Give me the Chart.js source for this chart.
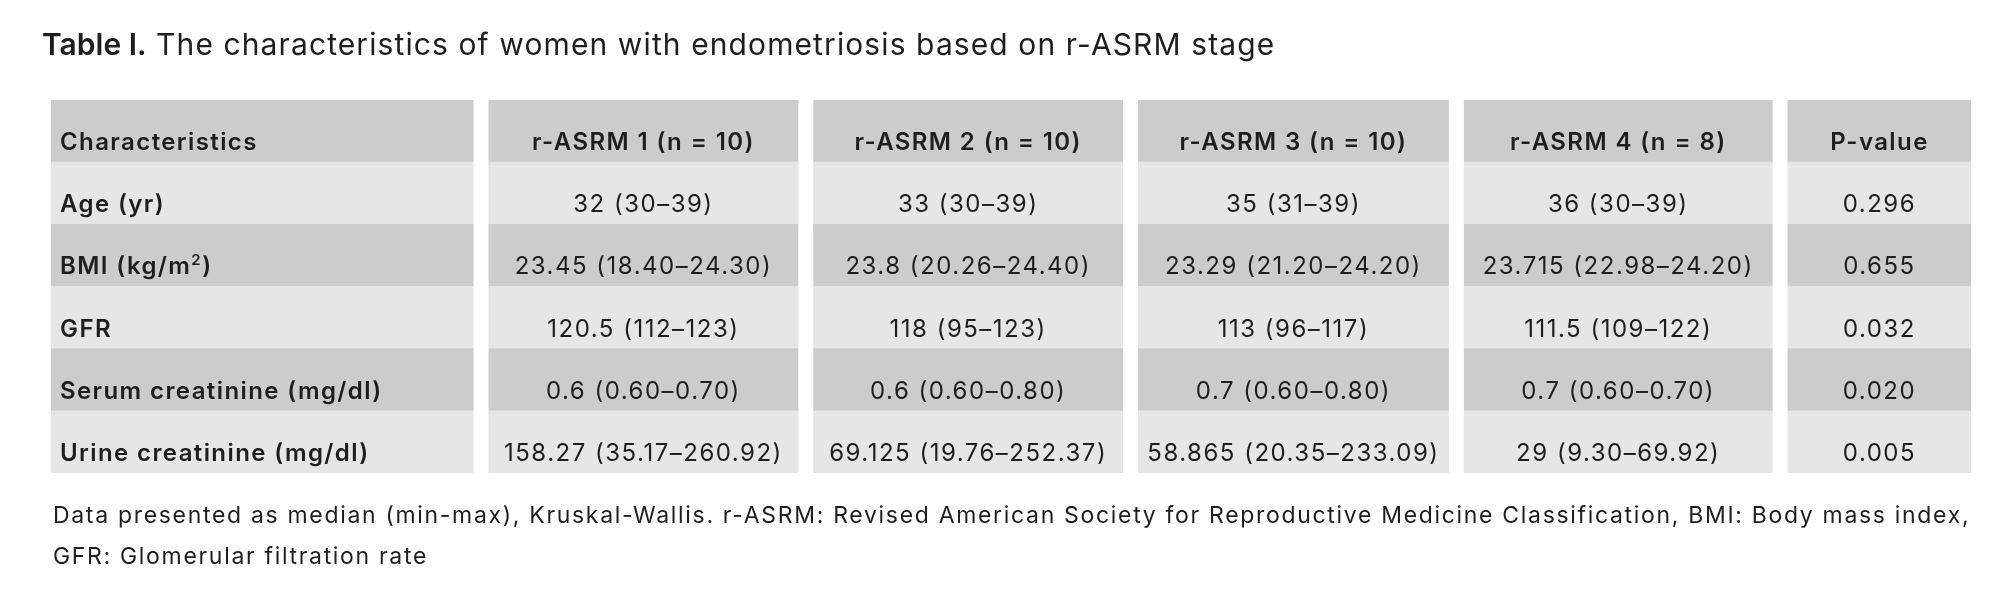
<!DOCTYPE html>
<html>
<head>
<meta charset="utf-8">
<script src="https://cdn.jsdelivr.net/npm/chart.js@4.4.1/dist/chart.umd.min.js"></script>
<style>
  html, body { margin: 0; padding: 0; background: #ffffff; }
  canvas { display: block; }
</style>
</head>
<body>
<canvas id="table-chart" width="2000" height="611"></canvas>
<script>
// --- DATA ---
const headerLabel = 'Characteristics';
const groups = ['r-ASRM 1 (n = 10)', 'r-ASRM 2 (n = 10)', 'r-ASRM 3 (n = 10)', 'r-ASRM 4 (n = 8)'];
const pHeader = 'P-value';
const characteristics = ['Age (yr)', 'BMI (kg/m²)', 'GFR', 'Serum creatinine (mg/dl)', 'Urine creatinine (mg/dl)'];
const asrm1 = ['32 (30–39)', '23.45 (18.40–24.30)', '120.5 (112–123)', '0.6 (0.60–0.70)', '158.27 (35.17–260.92)'];
const asrm2 = ['33 (30–39)', '23.8 (20.26–24.40)', '118 (95–123)', '0.6 (0.60–0.80)', '69.125 (19.76–252.37)'];
const asrm3 = ['35 (31–39)', '23.29 (21.20–24.20)', '113 (96–117)', '0.7 (0.60–0.80)', '58.865 (20.35–233.09)'];
const asrm4 = ['36 (30–39)', '23.715 (22.98–24.20)', '111.5 (109–122)', '0.7 (0.60–0.70)', '29 (9.30–69.92)'];
const pValues = ['0.296', '0.655', '0.032', '0.020', '0.005'];

const titleBold = 'Table I.';
const titleText = ' The characteristics of women with endometriosis based on r-ASRM stage';
const footnote = [
    'Data presented as median (min-max), Kruskal-Wallis. r-ASRM: Revised American Society for Reproductive Medicine Classification, BMI: Body mass index,',
    'GFR: Glomerular filtration rate'
];

// --- LAYOUT / STYLE ---
const FONT = 'Inter, "Open Sans", sans-serif';
const colWidths = [422, 309, 309, 310, 308, 183];
const colGap = 15.6;
const darkFill = '#cccccc';
const lightFill = '#e6e6e6';
const textColor = '#1e1e1e';

// column edges in table units
const colEdges = [];
let pos = 0;
colWidths.forEach(w => {
    colEdges.push([pos, pos + w]);
    pos += w + colGap;
});
const tableWidth = pos - colGap;

const rowLabels = [headerLabel].concat(characteristics);
const headerRow = [headerLabel].concat(groups, [pHeader]);
const bodyColumns = [characteristics, asrm1, asrm2, asrm3, asrm4, pValues];

function cellText(row, col) {
    return row === 0 ? headerRow[col] : bodyColumns[col][row - 1];
}

const datasets = colEdges.map((edge, c) => ({
    label: headerRow[c],
    data: rowLabels.map(() => edge.slice()),
    backgroundColor: rowLabels.map((_, r) => r % 2 === 0 ? darkFill : lightFill),
    borderWidth: 0,
    borderSkipped: false,
    grouped: false,
    barPercentage: 1,
    categoryPercentage: 1
}));

function setFont(ctx, weight, size, spacing) {
    ctx.font = weight + ' ' + size + 'px ' + FONT;
    ctx.letterSpacing = spacing + 'px';
}

// left-aligned label; a "²" is drawn as a raised, smaller 2
function drawLabel(ctx, txt, x, y) {
    const parts = txt.split('²');
    let cx = x;
    parts.forEach((part, i) => {
        if (i > 0) {
            setFont(ctx, 600, 15, 0.5);
            ctx.fillText('2', cx, y - 9);
            cx += ctx.measureText('2').width + 1;
            setFont(ctx, 600, 24, 1.4);
        }
        ctx.fillText(part, cx, y);
        cx += ctx.measureText(part).width;
    });
}

const tableTextPlugin = {
    id: 'tableText',
    afterDatasetsDraw(chart) {
        const ctx = chart.ctx;
        const xs = chart.scales.x;
        const ys = chart.scales.y;
        ctx.save();
        ctx.fillStyle = textColor;
        ctx.textBaseline = 'alphabetic';
        rowLabels.forEach((_, r) => {
            const y = ys.getPixelForValue(r) + 19;
            colEdges.forEach((edge, c) => {
                const bold = r === 0 || c === 0;
                if (bold) setFont(ctx, 600, 24, 1.4);
                else setFont(ctx, 400, 24, 1.5);
                const txt = cellText(r, c);
                if (c === 0) {
                    ctx.textAlign = 'left';
                    drawLabel(ctx, txt, xs.getPixelForValue(edge[0]) + 9, y);
                } else {
                    ctx.textAlign = 'center';
                    ctx.fillText(txt, xs.getPixelForValue((edge[0] + edge[1]) / 2), y);
                }
            });
        });
        ctx.restore();
    },
    afterDraw(chart) {
        const ctx = chart.ctx;
        const area = chart.chartArea;
        ctx.save();
        ctx.fillStyle = textColor;
        ctx.textAlign = 'left';
        ctx.textBaseline = 'alphabetic';
        // title
        setFont(ctx, 600, 30, 0);
        ctx.fillText(titleBold, 42, 55);
        const w = ctx.measureText(titleBold).width;
        setFont(ctx, 400, 30, 1.1);
        ctx.fillText(titleText, 42 + w, 55);
        // footnote
        setFont(ctx, 400, 23, 1.68);
        ctx.fillText(footnote[0], area.left + 2, area.bottom + 50);
        ctx.fillText(footnote[1], area.left + 2, area.bottom + 91);
        ctx.restore();
    }
};

new Chart(document.getElementById('table-chart').getContext('2d'), {
    type: 'bar',
    data: { labels: rowLabels, datasets: datasets },
    options: {
        indexAxis: 'y',
        responsive: false,
        animation: false,
        devicePixelRatio: 1,
        layout: { padding: { left: 51, right: 29, top: 100, bottom: 138 } },
        scales: {
            x: { type: 'linear', min: 0, max: tableWidth, display: false },
            y: { type: 'category', display: false }
        },
        plugins: {
            legend: { display: false },
            tooltip: { enabled: false }
        }
    },
    plugins: [tableTextPlugin]
});
</script>
</body>
</html>
